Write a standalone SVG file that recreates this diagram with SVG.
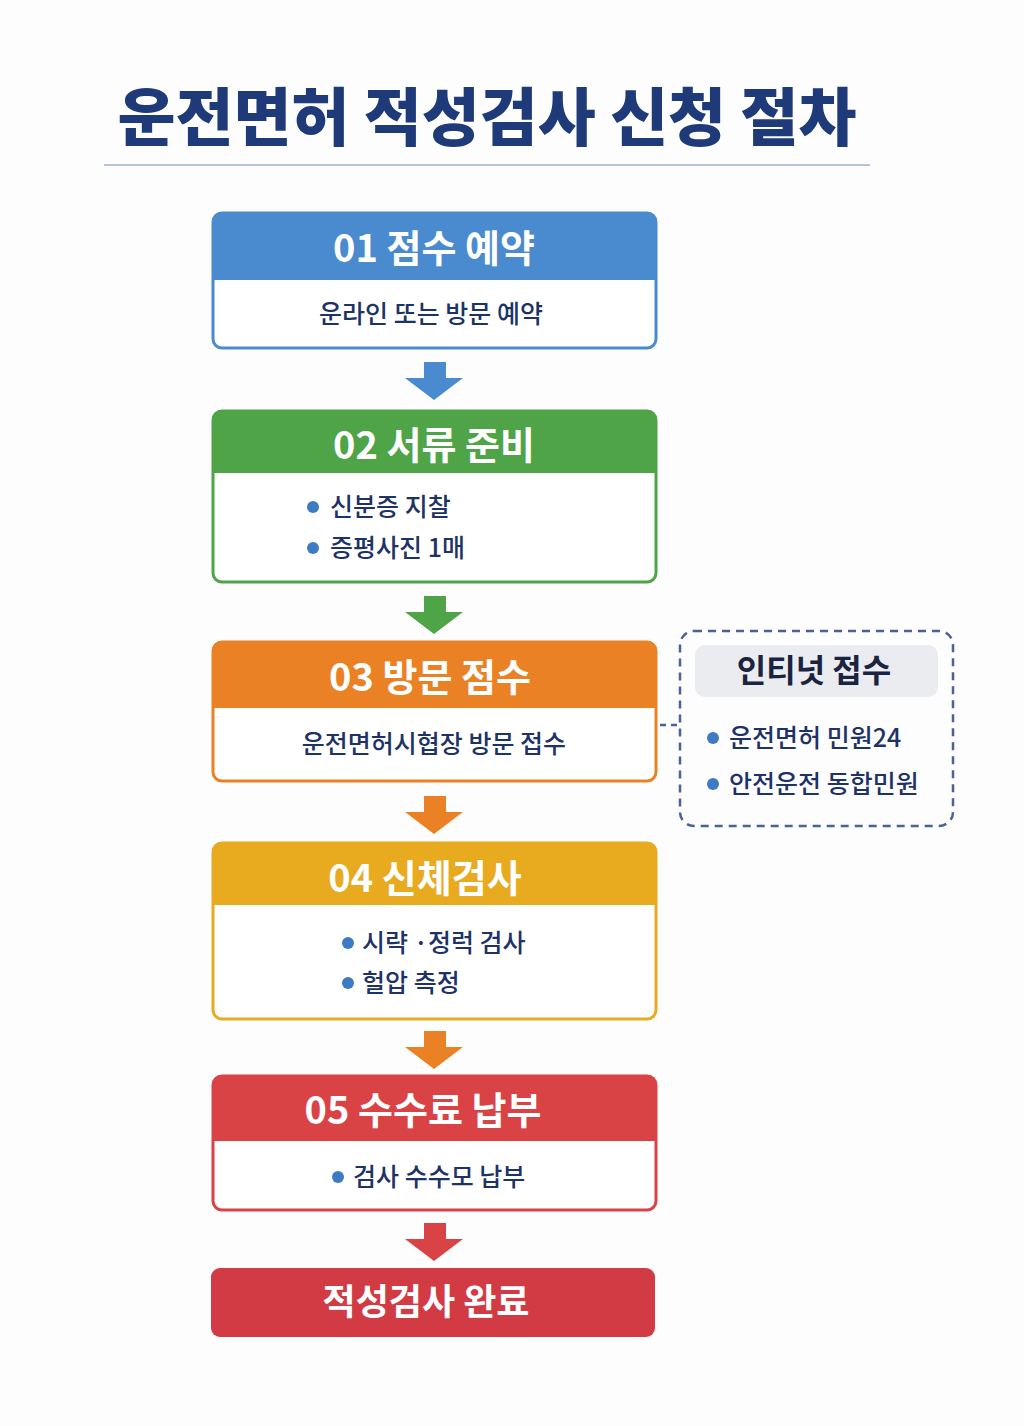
<svg xmlns="http://www.w3.org/2000/svg" width="1024" height="1426" viewBox="0 0 1024 1426">
<style>
text{font-family:"Noto Sans CJK KR","Noto Sans",sans-serif}
.h{font-size:38px;font-weight:700;fill:#fff;text-anchor:middle}
.b{font-size:25px;font-weight:500;fill:#1d3266;text-anchor:middle}
.l{font-size:25px;font-weight:500;fill:#1d3266}
.dot{fill:#3d7cc4}
</style>
<rect width="1024" height="1426" fill="#fdfdfe"/>
<text x="487" y="140" style="font-size:63px;font-weight:900;fill:#1e3a78;text-anchor:middle">운전면허 적성검사 신청 절차</text>
<line x1="104" y1="165" x2="870" y2="165" stroke="#b8c4dc" stroke-width="2"/>

<g id="n1">
<rect x="213" y="213" width="443" height="135" rx="9" fill="#fff" stroke="#4a8bd0" stroke-width="3"/>
<path d="M213 280V222a9 9 0 0 1 9-9h425a9 9 0 0 1 9 9v58z" fill="#4a8bd0"/>
<text class="h" x="434" y="262">01 점수 예약</text>
<text class="b" x="431" y="323">운라인 또는 방문 예약</text>
</g>
<g id="n2">
<rect x="213" y="411" width="443" height="171" rx="9" fill="#fff" stroke="#4ea447" stroke-width="3"/>
<path d="M213 473V420a9 9 0 0 1 9-9h425a9 9 0 0 1 9 9v53z" fill="#4ea447"/>
<text class="h" x="434" y="459">02 서류 준비</text>
<circle class="dot" cx="313" cy="507" r="6"/><text class="l" x="330" y="516">신분증 지찰</text>
<circle class="dot" cx="313" cy="548" r="6"/><text class="l" x="330" y="557">증평사진 1매</text>
</g>
<g id="n3">
<rect x="213" y="642" width="443" height="139" rx="9" fill="#fff" stroke="#ea8124" stroke-width="3"/>
<path d="M213 708V651a9 9 0 0 1 9-9h425a9 9 0 0 1 9 9v57z" fill="#ea8124"/>
<text class="h" x="430" y="691">03 방문 점수</text>
<text class="b" x="434" y="753">운전면허시협장 방문 접수</text>
</g>
<g id="side">
<rect x="680" y="631" width="273" height="195" rx="14" fill="none" stroke="#4a6294" stroke-width="2.5" stroke-dasharray="8 6"/>
<rect x="695" y="645" width="243" height="52" rx="10" fill="#ebecef"/>
<text x="814" y="682" style="font-size:32px;font-weight:700;fill:#1a2440;text-anchor:middle">인티넛 접수</text>
<circle class="dot" cx="713" cy="738" r="6"/><text class="l" x="729" y="747">운전면허 민원24</text>
<circle class="dot" cx="713" cy="784" r="6"/><text class="l" x="729" y="793">안전운전 동합민원</text>
</g>
<g id="n4">
<rect x="213" y="843" width="443" height="176" rx="9" fill="#fff" stroke="#e8aa1f" stroke-width="3"/>
<path d="M213 905V852a9 9 0 0 1 9-9h425a9 9 0 0 1 9 9v53z" fill="#e8aa1f"/>
<text class="h" x="425" y="892">04 신체검사</text>
<circle class="dot" cx="348" cy="943" r="6"/><text class="l" x="362" y="952">시략 ·정럭 검사</text>
<circle class="dot" cx="348" cy="983" r="6"/><text class="l" x="362" y="992">헐압 측정</text>
</g>
<g id="n5">
<rect x="213" y="1076" width="443" height="134" rx="9" fill="#fff" stroke="#d94345" stroke-width="3"/>
<path d="M213 1141V1085a9 9 0 0 1 9-9h425a9 9 0 0 1 9 9v56z" fill="#d94345"/>
<text class="h" x="423" y="1124">05 수수료 납부</text>
<circle class="dot" cx="338" cy="1177" r="6"/><text class="l" x="353" y="1186">검사 수수모 납부</text>
</g>
<g id="n6">
<rect x="211" y="1268" width="444" height="69" rx="9" fill="#d23a44"/>
<text class="h" x="426" y="1315" style="font-size:36px">적성검사 완료</text>
</g>
<g id="connectors">
<path d="M424 362h22v16h17l-29 22-29-22h19z" fill="#4a8bd0"/>
<path d="M424 596h22v16h17l-29 22-29-22h19z" fill="#4ea447"/>
<path d="M424 796h22v16h17l-29 22-29-22h19z" fill="#ea8124"/>
<path d="M424 1031h22v16h17l-29 22-29-22h19z" fill="#ea8124"/>
<path d="M424 1223h22v16h17l-29 22-29-22h19z" fill="#d94345"/>
<line x1="660" y1="725" x2="680" y2="725" stroke="#4a6294" stroke-width="2.5" stroke-dasharray="6 5"/>
</g>
</svg>
